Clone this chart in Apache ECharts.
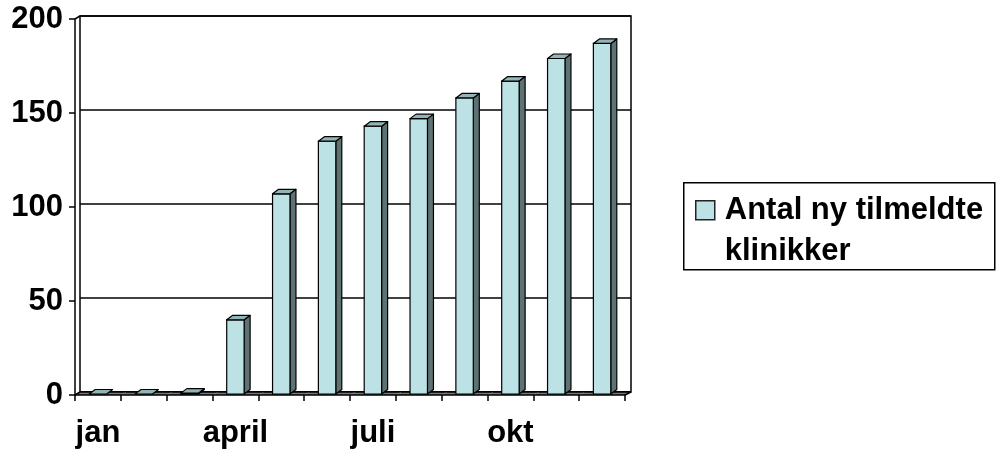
<!DOCTYPE html>
<html>
<head>
<meta charset="utf-8">
<script src="https://cdn.jsdelivr.net/npm/echarts@6/dist/echarts.min.js"></script>
<style>
  html, body { margin: 0; padding: 0; background: #fff; }
  #chart { width: 996px; height: 450px; }
</style>
</head>
<body>
<div id="chart"></div>
<script>
// Monthly count of newly registered clinics
const months = ['jan', 'feb', 'marts', 'april', 'maj', 'juni', 'juli', 'aug', 'sep', 'okt', 'nov', 'dec'];
const tilmeldte = [0, 0, 1, 40, 107, 135, 143, 147, 158, 167, 179, 187];
const seriesName = 'Antal ny tilmeldte klinikker';
const legendLines = ['Antal ny tilmeldte', 'klinikker'];
const yTicks = { min: 0, max: 200, interval: 50 };

// Layout of the pseudo-3D frame: front plane and the back wall behind it
const FONT = '"Liberation Sans", Arial, sans-serif';
const front = { left: 75, top: 19, width: 550, height: 376 };
const depth = { dx: 5, dy: -3 };
const back = { left: front.left + depth.dx, top: front.top + depth.dy, width: front.width + 1, height: front.height };
const barDepth = { dx: 6, dy: -4.5 };
const colors = { face: '#BCE2E5', side: '#5E7273', top: '#93B4B6', floor: '#777777', line: '#000000' };

const chart = echarts.init(document.getElementById('chart'), null, { renderer: 'canvas' });

function renderBar(params, api) {
  const i = api.value(0);
  const v = api.value(1);
  const topPt = api.coord([i, v]);
  const basePt = api.coord([i, 0]);
  const band = api.size([1, 0])[0];
  const w = band * 0.38;
  const cx = topPt[0];
  const x0 = cx - w / 2, x1 = cx + w / 2;
  const y0 = basePt[1] - 1;
  const yT = Math.min(topPt[1], y0);
  const bx = barDepth.dx, by = barDepth.dy;
  const children = [];

  // floor strip under this category band
  const fl = cx - band / 2, fr = cx + band / 2, fy = basePt[1];
  children.push({
    type: 'polygon',
    shape: { points: [[fl, fy], [fr, fy], [fr + depth.dx, fy + depth.dy], [fl + depth.dx, fy + depth.dy]] },
    style: { fill: colors.floor, stroke: null }
  });
  children.push({
    type: 'line',
    shape: { x1: fl + depth.dx, y1: fy + depth.dy, x2: fr + depth.dx + 0.5, y2: fy + depth.dy },
    style: { stroke: colors.line, lineWidth: 1.5 }
  });

  if (v > 0) {
    children.push({
      type: 'polygon',
      shape: { points: [[x1, yT], [x1 + bx, yT + by], [x1 + bx, y0 + by], [x1, y0]] },
      style: { fill: colors.side, stroke: colors.line, lineWidth: 1.2, lineJoin: 'round' }
    });
    children.push({
      type: 'rect',
      shape: { x: x0, y: yT, width: w, height: y0 - yT },
      style: { fill: colors.face, stroke: colors.line, lineWidth: 1.2 }
    });
  }
  children.push({
    type: 'polygon',
    shape: { points: [[x0, yT], [x0 + bx, yT + by], [x1 + bx, yT + by], [x1, yT]] },
    style: { fill: colors.top, stroke: colors.line, lineWidth: 1.2, lineJoin: 'round' }
  });
  return { type: 'group', children: children };
}

const labelStyle = { color: '#000', fontFamily: FONT, fontWeight: 'bold', fontSize: 31 };

const option = {
  animation: false,
  backgroundColor: '#fff',
  grid: [
    { // back wall
      left: back.left, top: back.top, width: back.width, height: back.height,
      show: true, borderColor: colors.line, borderWidth: 1.5, backgroundColor: 'transparent'
    },
    { // front plane with the axes
      left: front.left, top: front.top, width: front.width, height: front.height
    }
  ],
  xAxis: [
    {
      gridIndex: 0, type: 'category', data: months, boundaryGap: true,
      axisLine: { show: false }, axisTick: { show: false }, axisLabel: { show: false }, splitLine: { show: false }
    },
    {
      gridIndex: 1, type: 'category', data: months, boundaryGap: true, z: 10,
      axisLine: { show: true, lineStyle: { color: colors.line, width: 1.5 } },
      axisTick: { show: true, interval: 0, length: 6, lineStyle: { color: colors.line, width: 1.5 } },
      axisLabel: Object.assign({ interval: 2, margin: 23 }, labelStyle),
      splitLine: { show: false }
    }
  ],
  yAxis: [
    {
      gridIndex: 0, type: 'value', min: yTicks.min, max: yTicks.max, interval: yTicks.interval,
      axisLine: { show: false }, axisTick: { show: false }, axisLabel: { show: false },
      splitLine: { show: true, lineStyle: { color: colors.line, width: 1.5 } }
    },
    {
      gridIndex: 1, type: 'value', min: yTicks.min, max: yTicks.max, interval: yTicks.interval, z: 10,
      axisLine: { show: true, lineStyle: { color: colors.line, width: 1.5 } },
      axisTick: { show: true, length: 6, lineStyle: { color: colors.line, width: 1.5 } },
      axisLabel: Object.assign({ margin: 12 }, labelStyle),
      splitLine: { show: false }
    }
  ],
  series: [
    {
      name: seriesName,
      type: 'custom',
      xAxisIndex: 1, yAxisIndex: 1,
      renderItem: renderBar,
      encode: { x: 0, y: 1 },
      data: tilmeldte.map(function (v, i) { return [i, v]; })
    }
  ],
  graphic: [
    // frame edges joining the front plane to the back wall
    { type: 'line', z: 50, shape: { x1: front.left, y1: front.top, x2: back.left, y2: back.top }, style: { stroke: colors.line, lineWidth: 1.5 } },
    { type: 'line', z: 50, shape: { x1: front.left, y1: front.top + front.height, x2: back.left, y2: back.top + back.height }, style: { stroke: colors.line, lineWidth: 1.5 } },
    { type: 'line', z: 50, shape: { x1: front.left + front.width, y1: front.top + front.height, x2: back.left + back.width, y2: back.top + back.height }, style: { stroke: colors.line, lineWidth: 1.5 } },
    // legend box
    {
      type: 'group', left: 683, top: 182,
      children: [
        { type: 'rect', shape: { x: 0, y: 0, width: 311, height: 87 }, style: { fill: '#fff', stroke: colors.line, lineWidth: 1.5 } },
        { type: 'rect', shape: { x: 12, y: 18, width: 19, height: 19 }, style: { fill: colors.face, stroke: '#222', lineWidth: 1.5 } },
        {
          type: 'text', x: 41, y: 7,
          style: {
            text: legendLines.join('\n'), fill: '#000', font: 'bold 31px ' + FONT,
            lineHeight: 41, verticalAlign: 'top', align: 'left'
          }
        }
      ]
    }
  ]
};

chart.setOption(option);
</script>
</body>
</html>
